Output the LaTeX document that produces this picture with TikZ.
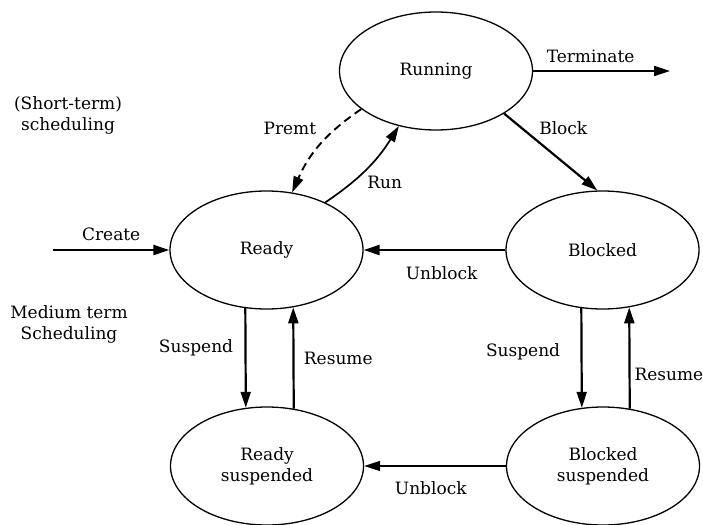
\documentclass[tikz,border=0pt]{standalone}
\usepackage{fontspec}
\setmainfont{DejaVu Serif}
\usetikzlibrary{arrows.meta,shapes.geometric}

\begin{document}
\begin{tikzpicture}[x=1pt, y=-1pt, font=\fontsize{17}{21}\selectfont,
        state/.style={ellipse, draw, line width=1.3pt, minimum width=193pt, minimum height=118pt, inner sep=0pt, align=center},
        trans/.style={-{Triangle[length=16pt, width=10pt]}, line width=2.2pt}]
        \useasboundingbox (0,0) rectangle (703,524);

        \node[state] (running) at (436, 71) {Running};
        \node[state] (ready) at (266.5, 250) {Ready};
        \node[state] (blocked) at (602.5, 250) {Blocked};
        \node[state] (readysus) at (267, 466) {Ready\\suspended};
        \node[state] (blockedsus) at (603, 466) {Blocked\\suspended};

        \coordinate (new) at (53, 250);
        \coordinate (exit) at (670, 71);

        \node[align=center] (shortterm) at (68, 115) {(Short-term)\\scheduling};
        \node[align=center] (mediumterm) at (69, 324) {Medium term\\Scheduling};

        \draw[trans] (new) -- node[above=5pt] (create) {Create} (ready);
        \draw[trans] (running) -- node[above=4pt, pos=0.42] (terminate) {Terminate} (exit);
        \draw[trans] (running.-32) -- node[above right, pos=0.33] (block) {Block} (blocked.95);
        \draw[trans, line width=1.7pt] (ready.39) to[bend right=12] node[below right, pos=0.45] (run) {Run} (running.236);
        \draw[trans, line width=1.9pt, dash pattern=on 8pt off 5pt] (running.207) to[bend right=16] node[left=16pt, pos=0.27] (premt) {Premt} (ready.66);
        \draw[trans] (blocked) -- node[below=12pt, pos=0.45] (unblock) {Unblock} (ready);
        \draw[trans, line width=1.3pt] (blockedsus) -- node[below=12pt, pos=0.53] (unblocksus) {Unblock} (readysus);

        \draw[trans] (ready.250) -- node[left=8pt, pos=0.4] (suspend) {Suspend} (readysus.110);
        \draw[trans] (readysus.65) -- node[right=6pt, pos=0.5] (resume) {Resume} (ready.295);
        \draw[trans] (blocked.250) -- node[left=17pt, pos=0.44] (suspendb) {Suspend} (blockedsus.110);
        \draw[trans] (blockedsus.65) -- node[right=0.5pt, pos=0.34] (resumeb) {Resume} (blocked.295);
    \end{tikzpicture}
\end{document}
